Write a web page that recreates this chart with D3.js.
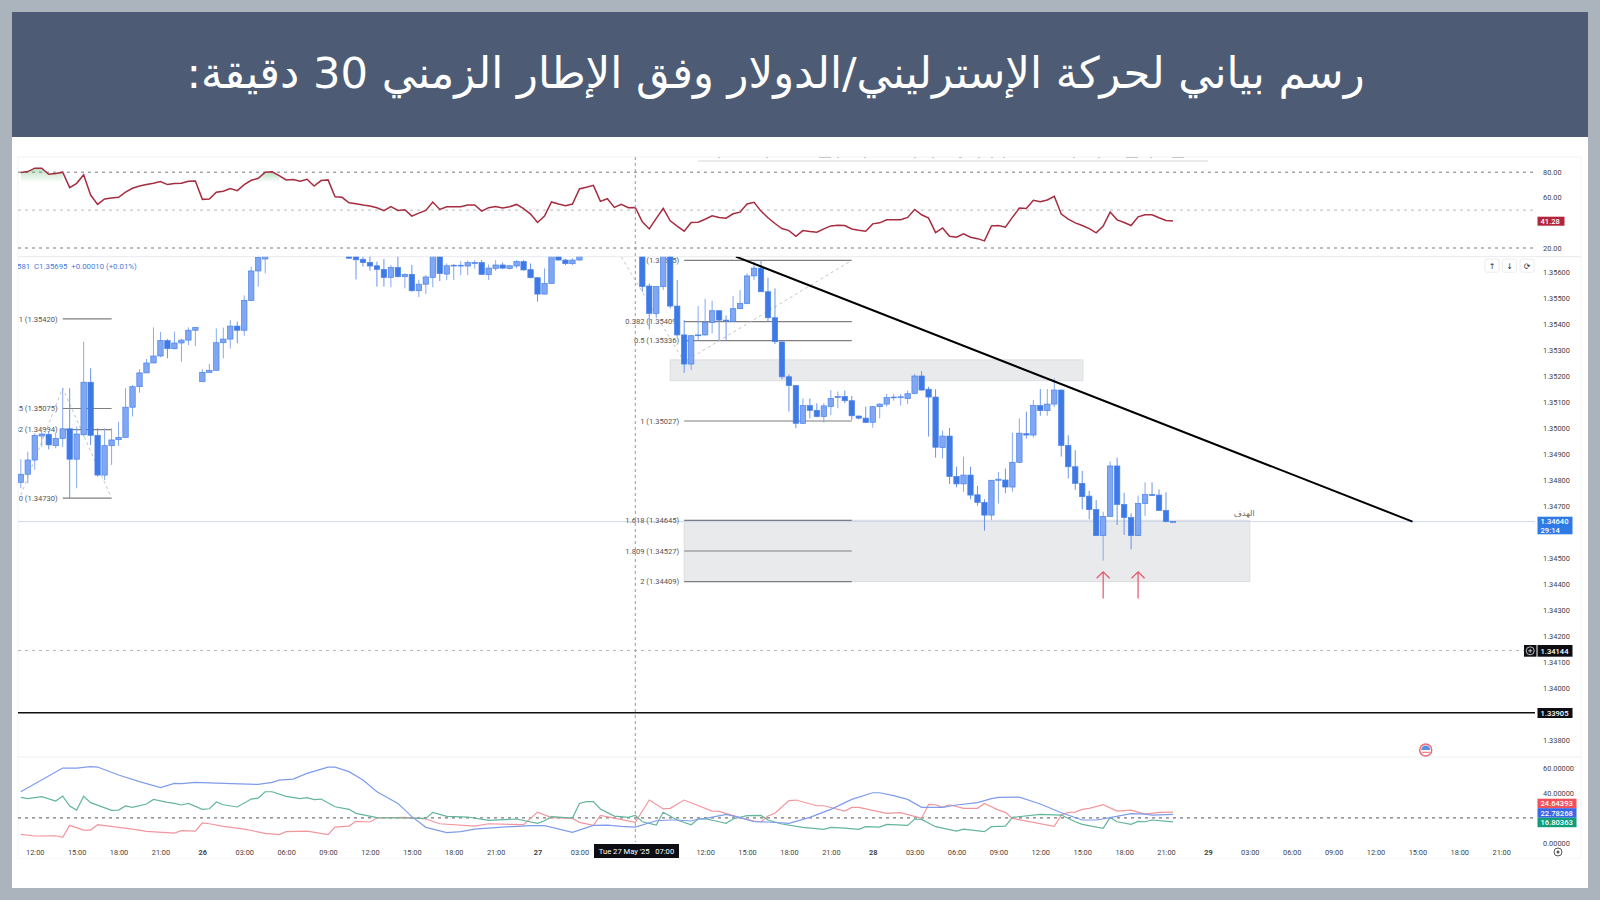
<!DOCTYPE html>
<html lang="ar">
<head>
<meta charset="utf-8">
<title>GBP/USD 30m</title>
<script src="https://cdn.jsdelivr.net/npm/d3@7"></script>
<style>
  html, body { margin: 0; padding: 0; background: #abb4bd; }
  svg { display: block; }
  text { font-family: Roboto, "Liberation Sans", sans-serif; }
</style>
</head>
<body>
<div id="container"></div>
<script>
/**
 * DATA, one entry per 30 minute bar
 * null = the bar sits above the visible part of the price pane
 * */
const opens = [
  1.34791,1.34822,1.34877,1.34969,1.34976,1.34932,1.34960,1.34997,1.34880,1.34974,
  1.35176,1.34972,1.34819,1.34932,1.34955,1.34964,1.35080,1.35159,1.35212,1.35250,
  1.35277,1.35336,1.35305,1.35327,1.35338,1.35376,1.35178,1.35214,1.35222,1.35328,
  1.35342,1.35392,1.35376,1.35491,1.35604,1.35650,
  null,null,null,null,null,null,null,null,null,null,null,
  1.35680,1.35665,1.35649,
  1.35637,1.35624,1.35610,1.35579,1.35617,1.35582,1.35591,1.35528,1.35553,1.35579,
  1.35670,1.35592,1.35623,1.35623,1.35623,1.35633,1.35636,1.35590,1.35614,1.35627,
  1.35614,1.35623,1.35640,1.35609,1.35578,1.35515,1.35556,1.35664,1.35646,1.35632,1.35646,
  null,null,null,null,null,null,null,null,
  1.35680,1.35546,1.35441,1.35544,1.35670,1.35469,1.35358,1.35246,1.35355,1.35358,1.35406,
  1.35451,1.35415,1.35409,1.35459,1.35479,1.35585,1.35615,1.35524,1.35424,1.35331,
  1.35197,1.35163,1.35018,1.35086,1.35068,1.35044,1.35083,1.35117,1.35121,1.35105,
  1.35046,1.35038,1.35022,1.35082,1.35092,1.35117,1.35118,1.35113,1.35133,1.35200,
  1.35149,1.35119,1.34925,1.34969,1.34814,1.34785,1.34819,1.34743,1.34714,1.34665,
  1.34799,1.34800,1.34773,1.34868,1.34978,1.34973,1.35086,1.35067,1.35092,1.35146,
  1.34933,1.34851,1.34787,1.34738,1.34686,1.34586,1.34660,1.34854,1.34706,1.34656,
  1.34586,1.34710,1.34744,1.34742,1.34683,1.34640
];
const highs = [
  1.34880,1.34909,1.34980,1.34992,1.34986,1.34980,1.35153,1.35153,1.35005,1.35332,
  1.35230,1.34999,1.34999,1.34999,1.35024,1.35153,1.35165,1.35226,1.35265,1.35387,
  1.35369,1.35342,1.35371,1.35344,1.35387,1.35387,1.35226,1.35246,1.35383,1.35386,
  1.35415,1.35409,1.35510,1.35621,1.35660,1.35690,
  null,null,null,null,null,null,null,null,null,null,null,
  1.35690,1.35690,1.35659,
  1.35662,1.35640,1.35650,1.35627,1.35662,1.35595,1.35627,1.35569,1.35588,1.35690,
  1.35690,1.35633,1.35631,1.35642,1.35644,1.35646,1.35646,1.35629,1.35646,1.35636,
  1.35627,1.35646,1.35646,1.35633,1.35580,1.35614,1.35680,1.35680,1.35650,1.35653,1.35670,
  null,null,null,null,null,null,null,null,
  1.35700,1.35556,1.35546,1.35680,1.35690,1.35569,1.35415,1.35358,1.35469,1.35497,1.35490,
  1.35453,1.35433,1.35508,1.35531,1.35595,1.35640,1.35646,1.35578,1.35537,1.35333,
  1.35206,1.35165,1.35114,1.35114,1.35095,1.35095,1.35146,1.35140,1.35144,1.35123,
  1.35048,1.35082,1.35085,1.35095,1.35131,1.35131,1.35131,1.35144,1.35208,1.35219,
  1.35159,1.35149,1.34990,1.35000,1.34851,1.34890,1.34851,1.34777,1.34726,1.34800,
  1.34831,1.34844,1.34982,1.35037,1.35063,1.35108,1.35150,1.35150,1.35191,1.35148,
  1.34972,1.34915,1.34835,1.34758,1.34723,1.34678,1.34871,1.34886,1.34751,1.34672,
  1.34740,1.34791,1.34791,1.34764,1.34753,1.34642
];
const lows = [
  1.34768,1.34787,1.34839,1.34928,1.34918,1.34922,1.34928,1.34730,1.34768,1.34967,
  1.34935,1.34813,1.34800,1.34858,1.34931,1.34964,1.35044,1.35136,1.35212,1.35250,
  1.35272,1.35268,1.35302,1.35255,1.35319,1.35315,1.35178,1.35214,1.35222,1.35268,
  1.35306,1.35326,1.35355,1.35487,1.35544,1.35595,
  null,null,null,null,null,null,null,null,null,null,null,
  1.35650,1.35571,1.35621,
  1.35605,1.35544,1.35544,1.35541,1.35579,1.35537,1.35524,1.35503,1.35515,1.35541,
  1.35565,1.35569,1.35569,1.35588,1.35588,1.35612,1.35588,1.35569,1.35604,1.35612,
  1.35610,1.35614,1.35605,1.35576,1.35486,1.35514,1.35556,1.35644,1.35627,1.35627,1.35644,
  null,null,null,null,null,null,null,null,
  1.35524,1.35379,1.35422,1.35531,1.35460,1.35351,1.35213,1.35223,1.35335,1.35355,1.35364,
  1.35335,1.35335,1.35409,1.35459,1.35476,1.35569,1.35524,1.35409,1.35323,1.35187,
  1.35063,1.34999,1.35015,1.35037,1.35041,1.35021,1.35050,1.35076,1.35095,1.35031,
  1.35033,1.35021,1.35001,1.35037,1.35082,1.35105,1.35086,1.35092,1.35130,1.35143,
  1.34967,1.34886,1.34883,1.34785,1.34772,1.34755,1.34726,1.34701,1.34605,1.34646,
  1.34710,1.34749,1.34755,1.34866,1.34960,1.34964,1.35047,1.35047,1.35080,1.34890,
  1.34806,1.34762,1.34687,1.34649,1.34584,1.34490,1.34659,1.34627,1.34589,1.34533,
  1.34586,1.34662,1.34738,1.34681,1.34637,1.34638
];
const closes = [
  1.34822,1.34877,1.34971,1.34977,1.34935,1.34960,1.34997,1.34880,1.34977,1.35176,
  1.34972,1.34819,1.34932,1.34954,1.34964,1.35080,1.35159,1.35212,1.35250,1.35277,
  1.35336,1.35305,1.35327,1.35338,1.35376,1.35387,1.35214,1.35222,1.35328,1.35342,
  1.35392,1.35376,1.35491,1.35604,1.35656,1.35672,
  null,null,null,null,null,null,null,null,null,null,null,
  1.35653,1.35647,1.35636,
  1.35623,1.35610,1.35579,1.35618,1.35582,1.35591,1.35528,1.35553,1.35581,1.35670,
  1.35594,1.35624,1.35626,1.35626,1.35636,1.35637,1.35591,1.35615,1.35627,1.35615,
  1.35624,1.35640,1.35608,1.35578,1.35515,1.35556,1.35670,1.35646,1.35632,1.35646,1.35662,
  null,null,null,null,null,null,null,null,
  1.35544,1.35441,1.35544,1.35670,1.35469,1.35358,1.35246,1.35355,1.35358,1.35406,1.35451,
  1.35415,1.35412,1.35459,1.35479,1.35585,1.35615,1.35524,1.35424,1.35332,1.35197,
  1.35163,1.35018,1.35086,1.35068,1.35044,1.35085,1.35114,1.35121,1.35105,1.35047,
  1.35038,1.35021,1.35082,1.35092,1.35117,1.35119,1.35120,1.35132,1.35200,1.35146,
  1.35119,1.34926,1.34969,1.34813,1.34785,1.34819,1.34742,1.34714,1.34665,1.34799,
  1.34803,1.34773,1.34868,1.34980,1.34973,1.35086,1.35067,1.35092,1.35146,1.34933,
  1.34851,1.34787,1.34736,1.34686,1.34586,1.34660,1.34854,1.34706,1.34656,1.34586,
  1.34710,1.34744,1.34741,1.34683,1.34640,1.34640
];

// RSI, one value per bar
const rsiValues = [
  79.7,80.5,83.2,83.2,78.4,78.9,80.0,67.8,71.2,77.9,
  61.9,54.5,58.8,59.6,60.1,64.3,67.3,69.1,70.2,71.2,
  72.6,70.2,71.0,71.2,72.8,73.1,58.5,58.8,64.1,64.9,
  67.0,65.4,70.2,73.6,75.2,80.0,80.3,77.3,73.9,74.2,
  72.8,74.4,69.1,73.4,73.9,60.6,60.1,55.8,55.0,54.0,
  53.2,51.9,49.5,52.7,49.7,50.3,45.2,47.6,49.7,56.4,
  50.5,52.7,52.7,52.7,54.0,54.0,49.2,51.9,52.9,51.6,
  52.7,54.5,51.1,46.8,40.2,45.2,56.4,54.8,53.5,54.8,
  66.7,68.1,69.6,56.9,59.0,52.1,54.5,51.9,52.1,40.7,
  35.1,43.4,51.3,41.5,37.3,33.3,40.2,40.4,42.8,45.5,
  44.2,43.6,47.1,48.4,54.8,56.1,49.2,43.9,39.4,35.4,
  33.8,29.3,33.8,33.0,32.5,35.1,37.5,38.1,37.8,35.1,
  34.1,33.3,39.1,39.9,42.3,42.3,42.3,44.2,50.5,46.3,
  43.6,32.2,35.9,29.3,28.5,31.2,28.5,27.4,25.6,37.5,
  37.8,36.5,44.2,51.6,51.3,57.7,56.6,58.0,60.9,46.8,
  42.8,39.9,37.8,35.4,32.0,37.3,48.4,42.3,40.2,37.8,
  44.7,46.3,46.3,43.9,41.8,41.28
];
// bars where RSI pokes through the 80 band (green glow)
const rsiGlowRuns = [[0,1,2,3,4,5,6], [33,34,35,36,37]];

// ADX / DMI vertices: bar number + value
const adxBars = [0,6,8,10,11,14,17,20,22,23,25,28,34,36,37,39,41,44,45,47,49,51,54,56,58,61,63,65,69,73,75,79,82,84,86,88,91,93,94,96,97,98,101,103,105,107,110,113,116,119,122,123,125,127,129,132,134,137,139,140,143,146,149,152,154,156,159,161,162,165];
const adxValues = [41.1,60.2,60.2,61.3,61.0,54.6,49.2,44.4,47.8,47.6,48.7,48.1,47.0,48.7,50.5,51.3,55.9,61.0,61.0,57.3,50.5,41.1,31.7,21.0,12.4,8.1,8.9,11.0,12.6,13.7,13.7,8.3,14.0,14.2,13.2,12.6,17.7,18.3,18.3,17.5,19.1,19.4,22.8,20.2,16.9,16.7,15.6,20.4,26.9,34.9,40.3,40.3,37.9,34.9,28.5,28.5,30.4,32.3,35.5,36.6,36.8,31.2,24.2,18.3,18.3,20.2,23.4,23.1,22.3,22.78];
const plusBars = [0,1,3,5,6,7,8,9,10,13,14,15,16,18,19,21,22,23,24,26,27,28,29,31,33,34,35,36,38,40,41,42,43,45,47,48,51,55,58,59,61,64,67,71,74,75,76,79,80,81,82,83,85,87,88,89,91,92,94,96,97,98,100,101,102,104,106,107,109,112,115,116,118,120,121,123,124,127,128,129,131,134,135,138,139,141,142,146,149,151,152,155,156,157,159,160,161,162,165];
const plusValues = [36.6,35.5,37.1,33.6,37.6,29.6,26.3,37.4,32.3,26.1,26.3,29.6,28.5,31.2,34.9,32.5,31.7,30.4,31.7,26.9,27.4,32.8,30.6,28.8,35.2,36.0,41.1,41.1,37.4,35.5,36.3,34.7,35.2,29.0,26.9,23.7,20.2,19.9,19.6,24.5,21.2,20.7,18.0,19.1,15.6,17.7,21.0,19.9,31.7,33.1,33.1,27.2,21.5,20.4,22.0,16.9,14.2,24.5,18.3,14.5,19.1,19.4,16.9,15.6,19.1,21.8,22.0,18.3,15.1,12.4,10.8,12.4,11.8,10.8,12.9,12.6,14.8,14.0,19.1,18.8,12.9,9.4,11.0,8.9,12.9,13.4,20.4,22.8,22.3,16.9,14.8,11.6,20.4,16.9,14.8,17.2,16.9,18.3,16.80];
const minusBars = [0,2,5,6,7,9,10,11,14,16,18,22,23,25,26,27,29,32,35,37,38,41,44,45,47,48,50,51,55,58,60,65,67,72,74,76,79,80,82,83,88,90,92,93,95,99,100,103,105,106,107,108,110,111,114,115,118,119,120,124,126,129,130,131,132,133,135,137,138,140,141,142,148,149,150,151,152,153,155,157,159,161,163,165];
const minusValues = [6.7,5.4,5.6,4.3,14.0,10.2,10.2,14.5,12.4,11.0,9.1,7.8,9.7,9.4,15.9,15.3,13.2,11.0,7.5,6.5,8.9,9.4,6.5,12.6,13.4,17.2,16.7,19.9,20.4,19.1,15.3,13.4,15.3,14.5,24.7,20.2,19.6,16.4,14.0,22.0,16.4,34.4,27.2,27.7,34.4,25.5,25.3,20.2,17.5,16.9,21.5,23.7,33.9,34.4,29.8,29.8,25.5,28.5,28.5,23.7,24.2,19.6,30.9,30.6,28.5,30.6,27.7,27.7,31.7,26.3,24.5,19.6,13.2,22.3,24.5,24.7,26.9,27.7,30.6,25.5,26.3,23.1,24.5,24.64];

// axis ticks (06:00 and 09:00 on the 27th sit under the crosshair tag in the picture)
const priceTicks = [1.356,1.355,1.354,1.353,1.352,1.351,1.35,1.349,1.348,1.347,1.345,1.344,1.343,1.342,1.341,1.34,1.338];
const rsiTicks = [80,60,20];
const rsiBands = [80,50,20];
const dmiTicks = [60,40,0];
const timeTickBars = [2,8,14,20,26,32,38,44,50,56,62,68,74,80,98,104,110,116,122,128,134,140,146,152,158,164,170,176,182,188,194,200,206,212];
const timeLabels = ["12:00","15:00","18:00","21:00","26","03:00","06:00","09:00","12:00","15:00","18:00","21:00","27","03:00","12:00","15:00","18:00","21:00","28","03:00","06:00","09:00","12:00","15:00","18:00","21:00","29","03:00","06:00","09:00","12:00","15:00","18:00","21:00"];

// drawings on the price pane
const fibLeftLevels = [1.35420, 1.35075, 1.34994, 1.34730];
const fibLeftLabels = ["1 (1.35420)", "0.5 (1.35075)", "0.382 (1.34994)", "0 (1.34730)"];
const fibLeftBars = [6, 13];
const fibRightLevels = [1.35645, 1.35409, 1.35336, 1.35027, 1.34645, 1.34527, 1.34409];
const fibRightLabels = ["0 (1.35645)", "0.382 (1.35409)", "0.5 (1.35336)", "1 (1.35027)", "1.618 (1.34645)", "1.809 (1.34527)", "2 (1.34409)"];
const fibRightBars = [95, 119];
const zigzagLeft = [[0,1.34742],[6,1.35153],[13,1.34730]];
const zigzagRight = [[86,1.35658],[95,1.35254],[119,1.35645]];
const zones = [
  {bars:[93, 152.1], top:1.35262, bottom:1.35182},
  {bars:[95, 176], top:1.34645, bottom:1.34409}
];
const trendLine = [[102.4,1.35659],[199.3,1.34640]];
const arrowBars = [155, 160];
const arrowPrices = [1.34344, 1.34447];
const lastPrice = 1.34640;
const dashedPrice = 1.34144;
const solidPrice = 1.33905;
const crosshairBar = 88;

const titleText = "رسم بياني لحركة الإسترليني/الدولار وفق الإطار الزمني 30 دقيقة:";
const targetText = "الهدف";
const legendText = "581  C1.35695  +0.00010 (+0.01%)";

/**
 * SCALES
 * */
const width = 1600, height = 900;
const plotLeft = 18, plotRight = 1535;
const rsiTop = 157, rsiBottom = 256.7, priceBottom = 757, dmiBottom = 842;

const x = d3.scaleLinear().domain([0, 212]).range([20.8, 1501.2]);
const yRsi = d3.scaleLinear().domain([80, 20]).range([172.2, 248]);
const yPrice = d3.scaleLinear().domain([1.356, 1.338]).range([272, 740]);
const yDmi = d3.scaleLinear().domain([0, 60]).range([842.7, 768.3]);

const svg = d3.select("#container").append("svg")
  .attr("width", width)
  .attr("height", height);

const defs = svg.append("defs");
defs.append("clipPath").attr("id", "clipPrice").append("rect")
  .attr("x", plotLeft).attr("y", rsiBottom).attr("width", plotRight - plotLeft).attr("height", priceBottom - rsiBottom);
defs.append("clipPath").attr("id", "clipLeft").append("rect")
  .attr("x", plotLeft).attr("y", rsiTop).attr("width", plotRight - plotLeft).attr("height", dmiBottom - rsiTop);
const glow = defs.append("linearGradient").attr("id", "rsiGlow").attr("x1", 0).attr("y1", 0).attr("x2", 0).attr("y2", 1);
glow.append("stop").attr("offset", "0%").attr("stop-color", "#5fb56f").attr("stop-opacity", 0.45);
glow.append("stop").attr("offset", "100%").attr("stop-color", "#5fb56f").attr("stop-opacity", 0);

/**
 * FRAME AND HEADER
 * */
svg.append("rect").attr("width", width).attr("height", height).attr("fill", "#abb4bd");
svg.append("rect").attr("x", 12).attr("y", 137).attr("width", 1576).attr("height", 751).attr("fill", "#ffffff");
svg.append("rect").attr("x", 12).attr("y", 12).attr("width", 1576).attr("height", 125).attr("fill", "#4d5c74");
svg.append("text")
  .attr("x", 775.5).attr("y", 88)
  .attr("text-anchor", "middle")
  .attr("direction", "rtl")
  .attr("fill", "#ffffff")
  .style("font-family", '"DejaVu Sans", sans-serif')
  .style("font-size", "43.3px")
  .text(titleText);

svg.append("rect").attr("x", 18).attr("y", 157).attr("width", 1563).attr("height", 701)
  .attr("fill", "none").attr("stroke", "#f3f4f5");
svg.append("line").attr("x1", plotLeft).attr("x2", 1581).attr("y1", rsiBottom).attr("y2", rsiBottom).attr("stroke", "#e9ebee");
svg.append("line").attr("x1", plotLeft).attr("x2", 1581).attr("y1", priceBottom).attr("y2", priceBottom).attr("stroke", "#eef0f2");

// scrap of the toolbar that shows at the top of the screenshot
svg.append("line").attr("x1", 698).attr("x2", 1208).attr("y1", 161).attr("y2", 161)
  .attr("stroke", "#e4e4e4").attr("stroke-width", 1.5);
const toolbarScraps = [718,766,819,837,864,914,932,959,978,991,1003,1073,1098,1126,1150,1172];
svg.selectAll("rect.scrap")
  .data(toolbarScraps)
  .join("rect")
  .attr("class", "scrap")
  .attr("x", d => d).attr("y", 157)
  .attr("width", (d, i) => [2, 2, 12, 2, 2, 2, 2, 3, 2, 2, 2, 2, 2, 12, 2, 12][i]).attr("height", 1)
  .attr("fill", "#c8c8c8");

/**
 * RSI PANE
 * */
const rsiPane = svg.append("g").attr("clip-path", "url(#clipLeft)");

rsiPane.selectAll("line.band")
  .data(rsiBands)
  .join("line")
  .attr("class", "band")
  .attr("x1", plotLeft).attr("x2", plotRight)
  .attr("y1", d => yRsi(d)).attr("y2", d => yRsi(d))
  .attr("stroke", d => d === 50 ? "#b9b9b9" : "#7c7c7c")
  .attr("stroke-dasharray", "3 4");

const glowArea = d3.area().x(d => x(d)).y0(yRsi(72)).y1(d => yRsi(rsiValues[d]));
rsiPane.selectAll("path.glow")
  .data(rsiGlowRuns)
  .join("path")
  .attr("class", "glow")
  .attr("d", glowArea)
  .attr("fill", "url(#rsiGlow)");

const rsiLine = d3.line().x((d, i) => x(i)).y(d => yRsi(d));
rsiPane.append("path")
  .attr("d", rsiLine(rsiValues))
  .attr("fill", "none")
  .attr("stroke", "#a62c40")
  .attr("stroke-width", 1.5);

/**
 * PRICE PANE
 * */
const pricePane = svg.append("g").attr("clip-path", "url(#clipPrice)");

pricePane.selectAll("rect.zone")
  .data(zones)
  .join("rect")
  .attr("class", "zone")
  .attr("x", d => x(d.bars[0]))
  .attr("width", d => x(d.bars[1]) - x(d.bars[0]))
  .attr("y", d => yPrice(d.top))
  .attr("height", d => yPrice(d.bottom) - yPrice(d.top))
  .attr("fill", "#e9eaec")
  .attr("stroke", "#dcdde0");

// level lines
pricePane.append("line").attr("x1", plotLeft).attr("x2", plotRight)
  .attr("y1", yPrice(lastPrice)).attr("y2", yPrice(lastPrice))
  .attr("stroke", "#c9daf3");
pricePane.append("line").attr("x1", plotLeft).attr("x2", plotRight)
  .attr("y1", yPrice(dashedPrice)).attr("y2", yPrice(dashedPrice))
  .attr("stroke", "#b5b5b5").attr("stroke-dasharray", "3 4");
pricePane.append("line").attr("x1", plotLeft).attr("x2", plotRight)
  .attr("y1", yPrice(solidPrice)).attr("y2", yPrice(solidPrice))
  .attr("stroke", "#111").attr("stroke-width", 1.6);

// fib retracement / extension tools
const fibLine = (levels, bars, labels, cls) => {
  pricePane.selectAll("line." + cls)
    .data(levels)
    .join("line")
    .attr("class", cls)
    .attr("x1", x(bars[0])).attr("x2", x(bars[1]))
    .attr("y1", d => yPrice(d)).attr("y2", d => yPrice(d))
    .attr("stroke", "#7f7f7f")
    .attr("stroke-width", 1.2);
  pricePane.selectAll("text." + cls)
    .data(levels)
    .join("text")
    .attr("class", cls)
    .attr("x", x(bars[0]) - 5)
    .attr("y", d => yPrice(d) + 2.8)
    .attr("text-anchor", "end")
    .attr("fill", "#555")
    .style("font-size", "7.6px")
    .text((d, i) => labels[i]);
};
fibLine(fibLeftLevels, fibLeftBars, fibLeftLabels, "fibLeft");
fibLine(fibRightLevels, fibRightBars, fibRightLabels, "fibRight");

const zigzag = d3.line().x(d => x(d[0])).y(d => yPrice(d[1]));
pricePane.selectAll("path.zigzag")
  .data([zigzagLeft, zigzagRight])
  .join("path")
  .attr("class", "zigzag")
  .attr("d", zigzag)
  .attr("fill", "none")
  .attr("stroke", "#c4c4c4")
  .attr("stroke-dasharray", "3 3");

// candles
const bars = d3.range(opens.length)
  .filter(i => opens[i] !== null)
  .map(i => ({i, o: opens[i], h: highs[i], l: lows[i], c: closes[i]}));
const upColor = "#7fa7f3", downColor = "#3d7ae6";
const bodyWidth = 5.4;

pricePane.selectAll("line.wick")
  .data(bars)
  .join("line")
  .attr("class", "wick")
  .attr("x1", d => x(d.i)).attr("x2", d => x(d.i))
  .attr("y1", d => yPrice(d.h)).attr("y2", d => yPrice(d.l))
  .attr("stroke", d => d.c >= d.o ? "#86a9ef" : "#6a93ea")
  .attr("stroke-width", 1);

pricePane.selectAll("rect.body")
  .data(bars)
  .join("rect")
  .attr("class", "body")
  .attr("x", d => x(d.i) - bodyWidth / 2)
  .attr("width", bodyWidth)
  .attr("y", d => yPrice(Math.max(d.o, d.c)))
  .attr("height", d => Math.max(0.8, Math.abs(yPrice(d.o) - yPrice(d.c))))
  .attr("fill", d => d.c >= d.o ? upColor : downColor)
  .attr("stroke", "#4c82e8")
  .attr("stroke-width", 0.7);

// trend line and target arrows
pricePane.append("path")
  .attr("d", zigzag(trendLine))
  .attr("stroke", "#000")
  .attr("stroke-width", 2)
  .attr("fill", "none");

arrowBars.forEach(b => {
  const ax = x(b), y0 = yPrice(arrowPrices[0]), y1 = yPrice(arrowPrices[1]);
  pricePane.append("path")
    .attr("d", `M${ax},${y0}L${ax},${y1}M${ax - 6.5},${y1 + 6.5}L${ax},${y1}L${ax + 6.5},${y1 + 6.5}`)
    .attr("fill", "none")
    .attr("stroke", "#e4576a")
    .attr("stroke-width", 1.2);
});

pricePane.append("text")
  .attr("x", x(175.2)).attr("y", yPrice(lastPrice) - 6)
  .attr("text-anchor", "middle")
  .attr("fill", "#666")
  .style("font-family", '"DejaVu Sans", sans-serif')
  .style("font-size", "8px")
  .text(targetText);

pricePane.append("text")
  .attr("x", 17).attr("y", 269)
  .attr("fill", "#4a78d6")
  .attr("xml:space", "preserve")
  .style("font-size", "7.8px")
  .text(legendText);

// up / down / reload buttons
const btnGlyphs = ["↑", "↓", "⟳"];
const btn = svg.selectAll("g.btn").data(btnGlyphs).join("g")
  .attr("class", "btn")
  .attr("transform", (d, i) => `translate(${1492 + i * 17.5},265.7)`);
btn.append("rect").attr("x", -7).attr("y", -6.5).attr("width", 14).attr("height", 13).attr("rx", 2)
  .attr("fill", "#fff").attr("stroke", "#ececec");
btn.append("text").attr("y", 3).attr("text-anchor", "middle").attr("fill", "#333")
  .style("font-family", '"DejaVu Sans", sans-serif').style("font-size", "8px").text(d => d);

// news flag
const flag = svg.append("g").attr("transform", "translate(1425.7,750)");
flag.append("circle").attr("r", 6).attr("fill", "#fff").attr("stroke", "#e86a76").attr("stroke-width", 1.5);
flag.append("path").attr("d", "M-4.5,0A4.5,4.5 0 0 1 4.5,0Z").attr("fill", "#5c8fe0");
flag.append("line").attr("x1", -4).attr("x2", 4).attr("y1", 2.3).attr("y2", 2.3).attr("stroke", "#e86a76");

/**
 * DMI PANE
 * */
const dmiPane = svg.append("g").attr("clip-path", "url(#clipLeft)");

dmiPane.append("line")
  .attr("x1", plotLeft).attr("x2", plotRight)
  .attr("y1", yDmi(20)).attr("y2", yDmi(20))
  .attr("stroke", "#555").attr("stroke-dasharray", "3 4");

const dmiSeries = [
  {bars: minusBars, values: minusValues, color: "#f2969e"},
  {bars: plusBars, values: plusValues, color: "#63b59b"},
  {bars: adxBars, values: adxValues, color: "#7f9cec"}
];
dmiPane.selectAll("path.dmi")
  .data(dmiSeries)
  .join("path")
  .attr("class", "dmi")
  .attr("d", s => d3.line().x(d => x(d)).y((d, i) => yDmi(s.values[i]))(s.bars))
  .attr("fill", "none")
  .attr("stroke", s => s.color)
  .attr("stroke-width", 1.2);

// crosshair
svg.append("line")
  .attr("x1", x(crosshairBar)).attr("x2", x(crosshairBar))
  .attr("y1", rsiTop).attr("y2", dmiBottom)
  .attr("stroke", "#9a9a9a")
  .attr("stroke-dasharray", "3 3");

/**
 * AXES
 * */
const styleAxis = g => {
  g.select(".domain").remove();
  g.selectAll("text").attr("fill", "#444").style("font-size", "7.4px").style("font-family", "Roboto, sans-serif");
};

svg.append("g")
  .attr("transform", "translate(1540,0)")
  .call(d3.axisRight(yRsi).tickValues(rsiTicks).tickSize(0).tickFormat(d3.format(".2f")))
  .call(styleAxis);
svg.append("g")
  .attr("transform", "translate(1540,0)")
  .call(d3.axisRight(yPrice).tickValues(priceTicks).tickSize(0).tickFormat(d3.format(".5f")))
  .call(styleAxis);
svg.append("g")
  .attr("transform", "translate(1540,0)")
  .call(d3.axisRight(yDmi).tickValues(dmiTicks).tickSize(0).tickFormat(d3.format(".5f")))
  .call(styleAxis);

svg.append("g")
  .attr("transform", "translate(0,847)")
  .call(d3.axisBottom(x).tickValues(timeTickBars).tickSize(0).tickFormat((d, i) => timeLabels[i]))
  .call(styleAxis)
  .selectAll("text")
  .style("font-weight", (d, i) => /:/.test(timeLabels[i]) ? 400 : 700);

// value tags on the right axis
const tag = (yTop, h, w, fill, lines) => {
  svg.append("rect").attr("x", 1537.5).attr("y", yTop).attr("width", w).attr("height", h).attr("fill", fill);
  lines.forEach((t, i) => {
    svg.append("text")
      .attr("x", 1540.5)
      .attr("y", yTop + (h / lines.length) * (i + 0.5) + 2.7)
      .attr("fill", "#fff")
      .style("font-size", "7.6px")
      .style("font-weight", 500)
      .text(t);
  });
};
tag(216.7, 9, 27, "#b2253c", [d3.format(".2f")(rsiValues[rsiValues.length - 1])]);
tag(516.7, 17.6, 35, "#2f7ae5", [d3.format(".5f")(lastPrice), "29:14"]);
tag(645, 11.7, 35, "#0c0e14", [d3.format(".5f")(dashedPrice)]);
tag(708, 10, 35, "#0c0e14", [d3.format(".5f")(solidPrice)]);
tag(798.7, 9.5, 39, "#f0515a", [d3.format(".5f")(24.64393)]);
tag(808.2, 9.5, 39, "#3a66e8", [d3.format(".5f")(22.78268)]);
tag(817.7, 9.5, 39, "#0f9d7a", [d3.format(".5f")(16.80363)]);

// plus button next to the dashed level
svg.append("rect").attr("x", 1524).attr("y", 645).attr("width", 12.5).attr("height", 11.7).attr("fill", "#0c0e14");
svg.append("circle").attr("cx", 1530.2).attr("cy", 650.8).attr("r", 4).attr("fill", "none").attr("stroke", "#fff").attr("stroke-width", 0.7);
svg.append("path").attr("d", "M1528.2,650.8H1532.2M1530.2,648.8V652.8").attr("stroke", "#fff").attr("stroke-width", 0.7);

// crosshair date tag
svg.append("rect").attr("x", 594).attr("y", 844).attr("width", 85).attr("height", 14).attr("fill", "#0c0e14");
svg.append("text")
  .attr("x", 636.5).attr("y", 854)
  .attr("text-anchor", "middle")
  .attr("fill", "#fff")
  .attr("xml:space", "preserve")
  .style("font-size", "7.6px")
  .text("Tue 27 May '25   07:00");

// eye icon
svg.append("circle").attr("cx", 1558).attr("cy", 852).attr("r", 4).attr("fill", "none").attr("stroke", "#555");
svg.append("circle").attr("cx", 1558).attr("cy", 852).attr("r", 1.5).attr("fill", "#555");
</script>
</body>
</html>
